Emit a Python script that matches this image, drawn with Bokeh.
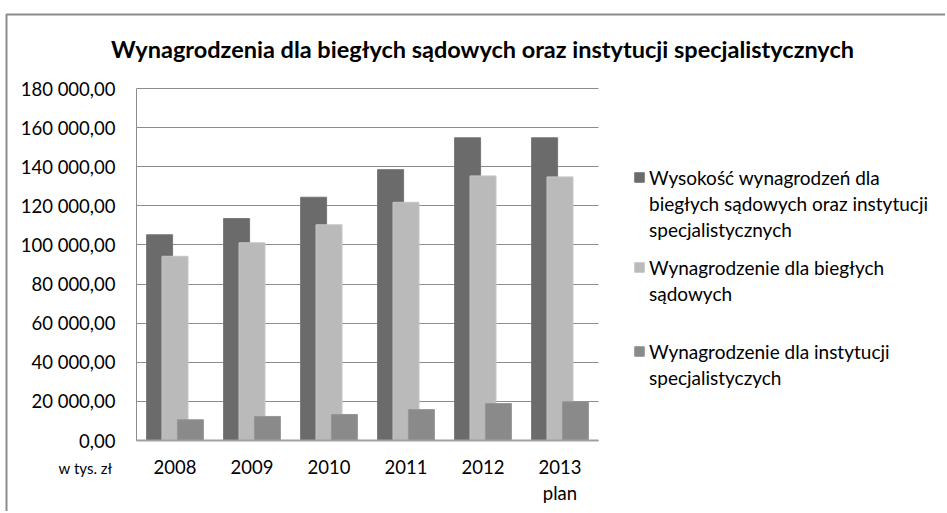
from bokeh.plotting import figure
from bokeh.models import (FixedTicker, Label, Legend, LegendItem, ColumnDataSource,
                          LinearAxis, BoxAnnotation, Grid)
from bokeh.transform import dodge
from bokeh.embed import file_html
from bokeh.resources import INLINE

# ---------------- data ----------------
categories = ["2008", "2009", "2010", "2011", "2012", "2013"]
x_labels = ["2008", "2009", "2010", "2011", "2012", "2013\nplan"]
total = [105200, 113500, 124400, 138500, 154800, 154800]
experts = [94200, 101100, 110300, 121800, 135300, 134800]
institutions = [10600, 12300, 13300, 15800, 18900, 19800]
series_names = [
    "Wysokość wynagrodzeń dla\nbiegłych sądowych oraz instytucji\nspecjalistycznych",
    "Wynagrodzenie dla biegłych\nsądowych",
    "Wynagrodzenie dla instytucji\nspecjalistyczych",
]
y_ticks = [0, 20000, 40000, 60000, 80000, 100000, 120000, 140000, 160000, 180000]
y_tick_labels = ["0,00", "20 000,00", "40 000,00", "60 000,00", "80 000,00",
                 "100 000,00", "120 000,00", "140 000,00", "160 000,00", "180 000,00"]
title_text = "Wynagrodzenia dla biegłych sądowych oraz instytucji specjalistycznych"
unit_text = "w tys. zł"

# ---------------- layout / style ----------------
FONT = "Lato"
COLORS = ["#6b6b6b", "#bababa", "#8a8a8a"]
EDGE = ["#777777", "#c6c6c6", "#969696"]
OX, OY = 0, 0                         # where the canvas lands in the screenshot
W, H = 945, 511
PL, PR, PT, PB = 136, 598, 88, 440    # plot area in screenshot px
YMAX = 180000
NCAT = len(categories)
PX_X = (PR - PL) / NCAT
PX_Y = (PB - PT) / YMAX


def dx(page_x):
    return (page_x - PL) / PX_X


def dy(page_y):
    return (PB - page_y) / PX_Y


p = figure(width=W, height=H, output_backend="svg", toolbar_location=None,
           x_range=(dx(OX), dx(OX + W)), y_range=(dy(OY + H), dy(OY)),
           min_border=0, x_axis_location=None, y_axis_location=None, tools="")
p.title = None
p.outline_line_color = None
p.xgrid.grid_line_color = None
p.ygrid.grid_line_color = None

# chart border (only its top and left edges fall inside the picture)
p.add_layout(BoxAnnotation(left=dx(6), top=dy(14), right=dx(W + 30), bottom=dy(H + 30),
                           fill_alpha=0, line_color="#8c8c8c", line_alpha=1.0,
                           line_width=2))

# grid lines limited to the plot area
yticker = FixedTicker(ticks=y_ticks)
grid = Grid(dimension=1, ticker=yticker, bounds=(0, YMAX), cross_bounds=(0, NCAT),
            grid_line_color="#8c8c8c", grid_line_width=1)
p.add_layout(grid)

xs = [i + 0.5 for i in range(NCAT)]
src = ColumnDataSource(dict(x=xs, total=total, experts=experts, inst=institutions))
offs = [-0.2, 0.0, 0.2]
bw = 26 / PX_X
renderers = []
for k, col in enumerate(["total", "experts", "inst"]):
    r = p.vbar(x=dodge("x", offs[k]), top=col, width=bw, source=src,
               fill_color=COLORS[k], line_color=EDGE[k], line_width=1)
    renderers.append(r)

# axes fixed at the plot-area edges
yaxis = LinearAxis(fixed_location=0, bounds=(0, YMAX), ticker=yticker,
                   major_label_overrides={t: l for t, l in zip(y_ticks, y_tick_labels)})
xaxis = LinearAxis(fixed_location=0, bounds=(0, NCAT), ticker=FixedTicker(ticks=xs),
                   major_label_overrides={x: l for x, l in zip(xs, x_labels)})
for ax in (xaxis, yaxis):
    ax.major_tick_line_color = None
    ax.minor_tick_line_color = None
    ax.axis_line_color = "#8c8c8c"
    ax.axis_line_width = 1
    ax.major_label_text_font = FONT
    ax.major_label_text_font_size = "18.5px"
    ax.major_label_text_color = "#000000"
yaxis.major_label_standoff = 15
xaxis.major_label_standoff = 9
xaxis.axis_line_width = 2
xaxis.axis_line_color = "#a0a0a0"
p.add_layout(yaxis, "left")
p.add_layout(xaxis, "below")

# title and unit label
p.add_layout(Label(x=dx(482), y=dy(48), text=title_text,
                   text_align="center", text_baseline="middle",
                   text_font=FONT, text_font_style="bold",
                   text_font_size="23.5px", text_color="#000000"))
p.add_layout(Label(x=dx(112), y=dy(467), text=unit_text,
                   text_align="right", text_baseline="middle",
                   text_font=FONT, text_font_size="15px", text_color="#000000"))

# legend: one legend per series, one item per text line
dummy = p.vbar(x=[0], top=[0], width=0, fill_alpha=0, line_alpha=0)
first_line_y = [176.7, 266.7, 350.7]  # screenshot px
LH = 26
for k, name in enumerate(series_names):
    lines = name.split("\n")
    items = [LegendItem(label=ln, renderers=[renderers[k] if j == 0 else dummy])
             for j, ln in enumerate(lines)]
    top_page = first_line_y[k] - LH / 2
    bottom_page = top_page + LH * len(lines)
    leg = Legend(items=items, location=(633 - OX, round((OY + H) - bottom_page)),
                 glyph_width=12, glyph_height=12, label_height=LH, spacing=0,
                 padding=0, margin=0, label_standoff=4,
                 label_text_font=FONT, label_text_font_size="19px",
                 label_text_color="#000000", border_line_color=None,
                 background_fill_alpha=0)
    p.add_layout(leg)

open("out.html", "w").write(file_html(p, INLINE))
